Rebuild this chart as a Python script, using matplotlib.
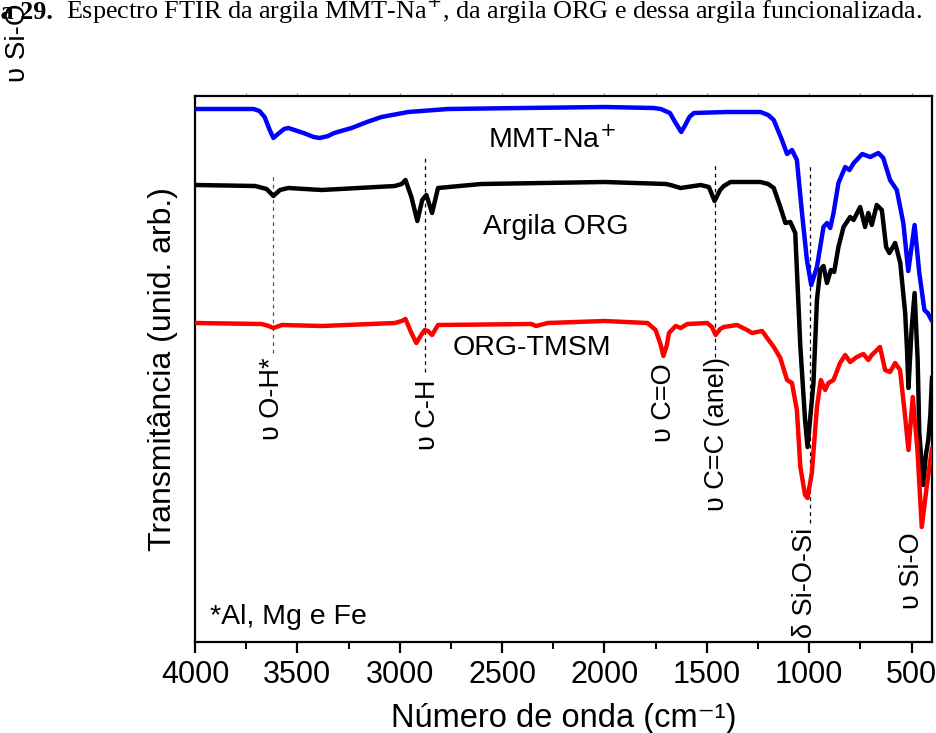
import matplotlib
matplotlib.use("Agg")
import matplotlib.pyplot as plt
import numpy as np

plt.rcParams['font.family'] = ['Liberation Sans', 'DejaVu Sans']

# ---- data: wavenumber (cm-1) and transmittance (arbitrary units, offset) ----
mmt_wn = [4000, 3713, 3685, 3660, 3635, 3617, 3595, 3565, 3544, 3470, 3420, 3391, 3350,
          3320, 3235, 3160, 3089, 2959, 2764, 2400, 2000, 1760, 1725, 1680, 1655, 1625,
          1605, 1585, 1563, 1400, 1238, 1200, 1173, 1133, 1108, 1084, 1060, 1035, 1011,
          990, 962, 930, 913, 897, 881, 857, 824, 803, 782, 741, 702, 662, 638, 605,
          572, 540, 516, 485, 462, 437, 421, 400]
mmt_t = [533, 533, 531, 525, 512, 504, 508, 513, 514, 509, 505, 504, 506,
         509, 514, 520, 525, 530, 533, 534, 535, 534, 533, 529, 520, 510,
         517, 525, 529, 530, 530, 527, 522, 502, 488, 492, 482, 429, 382,
         357, 375, 415, 419, 414, 429, 459, 475, 472, 479, 488, 485, 489, 484, 462,
         452, 419, 371, 417, 369, 332, 329, 321]

org_wn = [4000, 3706, 3650, 3617, 3585, 3544, 3381, 3024, 2990, 2972, 2943, 2914,
          2890, 2870, 2842, 2813, 2602, 2000, 1700, 1677, 1628, 1530, 1490, 1462,
          1435, 1417, 1384, 1238, 1200, 1173, 1141, 1116, 1092, 1068, 1043, 1020,
          1008, 979, 962, 946, 930, 913, 894, 878, 857, 832, 800, 783, 751, 727,
          711, 694, 670, 645, 624, 608, 580, 555, 531, 522, 515, 500, 485, 470,
          462, 443, 430, 418, 408, 400]
org_t = [457, 456, 453, 446, 452, 454, 452, 456, 458, 462, 445, 421,
         442, 447, 429, 454, 458, 460, 458, 457, 454, 457, 455, 441,
         452, 456, 460, 460, 458, 454, 435, 419, 420, 409, 295, 222,
         195, 259, 342, 372, 376, 359, 372, 370, 395, 415, 425, 422, 435, 415,
         429, 417, 437, 432, 395, 389, 399, 379, 329, 292, 254, 312, 349, 282,
         209, 157, 187, 202, 227, 265]

tmsm_wn = [4000, 3674, 3640, 3617, 3576, 3381, 3024, 2990, 2972, 2943, 2919, 2895,
           2878, 2862, 2842, 2813, 2358, 2334, 2277, 2000, 1790, 1750, 1725, 1712,
           1695, 1685, 1652, 1628, 1595, 1498, 1475, 1457, 1435, 1417, 1352, 1303,
           1279, 1230, 1198, 1173, 1141, 1108, 1084, 1060, 1043, 1020, 1008, 987,
           962, 943, 922, 906, 881, 849, 824, 800, 767, 735, 711, 694, 654, 629,
           605, 580, 556, 531, 515, 494, 471, 450, 426, 400]
tmsm_t = [319, 318, 316, 314, 317, 316, 319, 321, 323, 309, 299, 307,
          312, 311, 307, 317, 318, 316, 319, 321, 319, 312, 297, 286,
          297, 309, 316, 314, 318, 319, 315, 307, 313, 315, 317, 312,
          309, 311, 302, 295, 284, 262, 259, 232, 175, 147, 144, 169,
          235, 262, 252, 259, 262, 279, 287, 280, 285, 288, 282, 287, 295, 272,
          270, 279, 272, 225, 192, 245, 192, 115, 155, 194]

series_names = ['MMT-Na$^{+}$', 'Argila ORG', 'ORG-TMSM']
x_ticks = [4000, 3500, 3000, 2500, 2000, 1500, 1000, 500]

fig = plt.figure(figsize=(9.36, 7.33), dpi=100)
ax = fig.add_axes([195/936, 1-642/733, (932-195)/936, (642-96)/733])

lw = 3.2
kw = dict(lw=lw, solid_joinstyle='round', solid_capstyle='round')
ax.plot(mmt_wn, mmt_t, color='#0000ff', zorder=3, **kw)
ax.plot(org_wn, org_t, color='black', zorder=3, **kw)
ax.plot(tmsm_wn, tmsm_t, color='#ff0000', zorder=4, **kw)

ax.set_xlim(4000, 400)
ax.set_ylim(0, 546)
ax.set_xticks(x_ticks)
ax.set_xticks(np.arange(3750, 400, -500), minor=True)
ax.set_yticks([])
ax.tick_params(axis='x', which='major', direction='out', length=8, width=1.6,
               labelsize=22, pad=5, top=False)
ax.tick_params(axis='x', which='minor', direction='out', length=5, width=1.4, top=False)
# faint small ticks along the top frame
ax2 = ax.secondary_xaxis('top')
ax2.set_xticks(np.arange(3750, 400, -250))
ax2.tick_params(direction='out', length=2.5, width=0.8, colors='#888888', labeltop=False)
ax2.spines['top'].set_visible(False)
for s in ax.spines.values():
    s.set_linewidth(1.6)

ax.set_xlabel('Número de onda (cm⁻¹)', fontsize=23.5, va='top')
ax.xaxis.set_label_coords(0.5, -0.112)
ax.set_ylabel('Transmitância (unid. arb.)', fontsize=23, labelpad=12)

# curve labels
ax.text(2568, 502, series_names[0], fontsize=20.5, va='center', ha='left')
ax.text(2594, 415, series_names[1], fontsize=20.5, va='center', ha='left')
ax.text(2740, 294, series_names[2], fontsize=20.5, va='center', ha='left')
ax.text(3927, 25, '*Al, Mg e Fe', fontsize=20.5, va='center', ha='left')

# dashed guide lines
for wn, y0, y1, c in [(3617, 289, 467, '#555555'), (2878, 270, 487, 'black'),
                      (1461, 285, 480, 'black'), (997, 119, 477, 'black')]:
    ax.plot([wn, wn], [y0, y1], ls=(0, (3, 3)), color=c, lw=0.9, zorder=2)

# band labels (rotated)
for wn, ytop, txt in [(3625, 285, 'υ O-H*'), (2862, 262, 'υ C-H'),
                      (1709, 279, 'υ C=O'), (1449, 285, 'υ C=C (anel)'),
                      (1019, 114, 'δ Si-O-Si'), (499, 110, 'υ Si-O')]:
    ax.text(wn, ytop, txt, rotation=90, ha='center', va='top', fontsize=19.5)

# caption remnant at top of the page
fig.text(53/936, 1-19/733, 'ra 29.', fontsize=18.8, fontweight='bold',
         family='Liberation Serif', ha='right', va='baseline')
fig.text(66/936, 1-19/733, 'Espectro FTIR da argila MMT-Na$^{+}$, da argila ORG e dessa argila funcionalizada.',
         fontsize=18.8, family='Liberation Serif', ha='left', va='baseline')
fig.text(18/936, 1-82/733, 'υ Si-O', rotation=90, fontsize=20, ha='center', va='bottom')

fig.savefig('out.png', dpi=100)
